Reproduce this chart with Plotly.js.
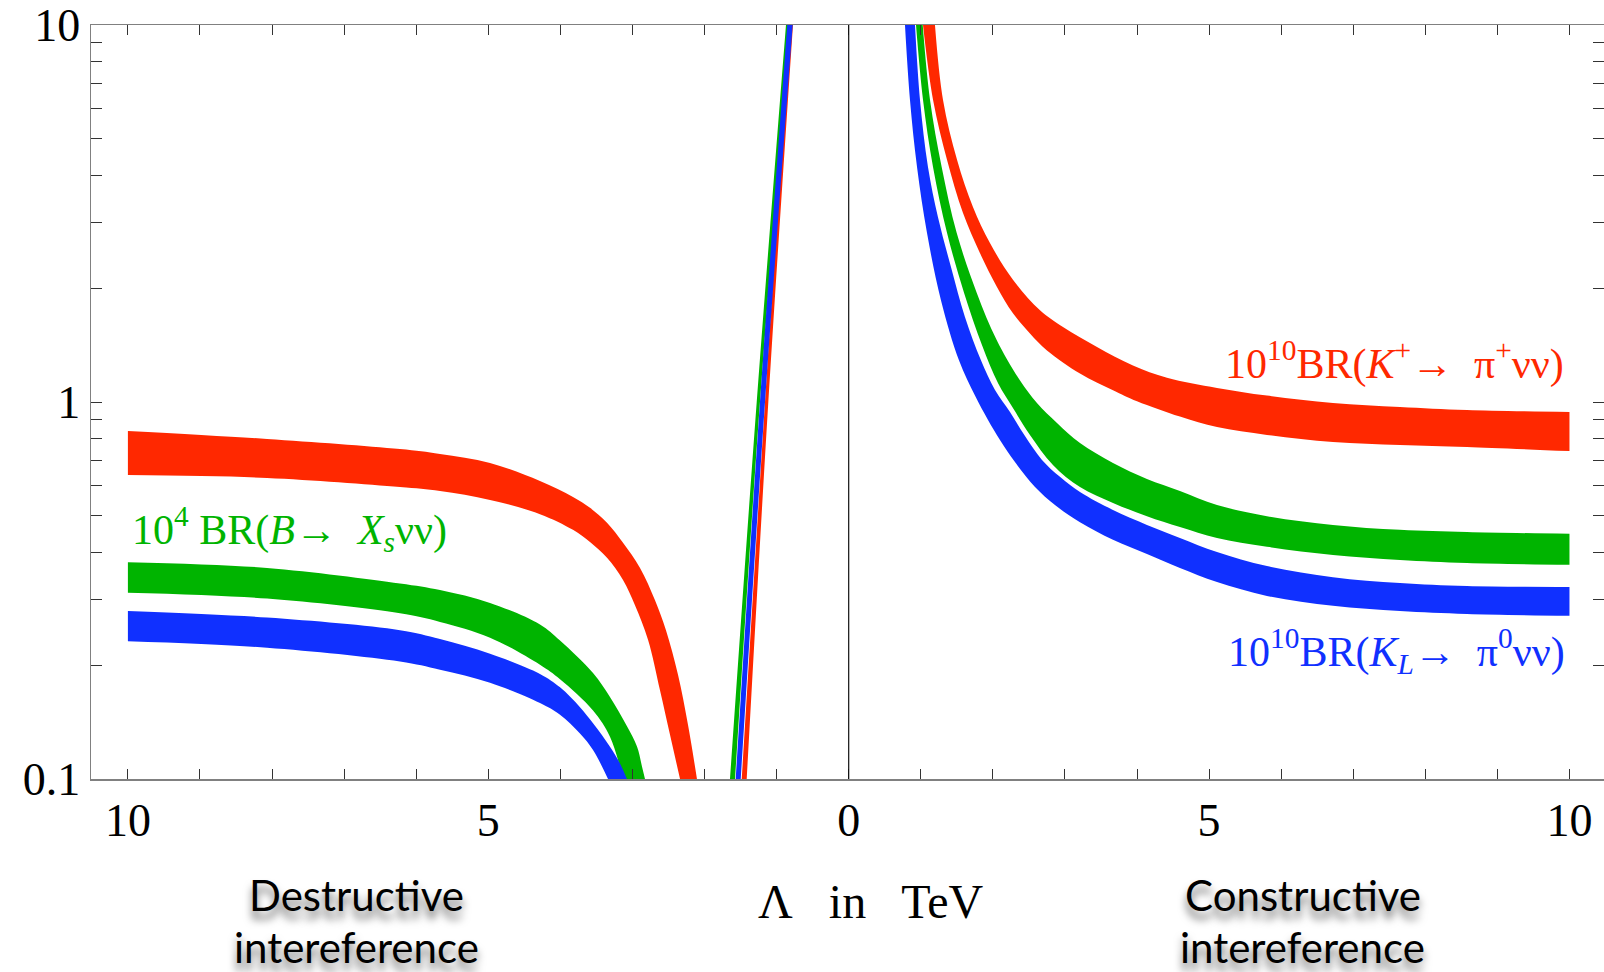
<!DOCTYPE html>
<html>
<head>
<meta charset="utf-8">
<script src="https://cdn.plot.ly/plotly-3.0.1.min.js"></script>
<style>
html,body{margin:0;padding:0;background:#fff;}
#chart{width:1604px;height:972px;}
</style>
</head>
<body>
<div id="chart"></div>
<script>
// ---- Destructive interference branch (Λ drawn at negative x) ----
const redDesUpperX = [-10,-8.07,-6.225,-5.67,-4.976,-4.283,-3.825,-3.589,-3.353,-3.131,-2.895,-2.687,-2.535,-2.368,-2.229,-2.105];
const redDesUpperY = [0.838,0.798,0.750,0.728,0.689,0.617,0.560,0.524,0.478,0.423,0.363,0.298,0.248,0.189,0.139,0.100];
const redDesLowerX = [-10,-8.07,-6.225,-5.67,-4.976,-4.283,-3.825,-3.589,-3.353,-3.131,-2.965,-2.784,-2.618,-2.479,-2.340];
const redDesLowerY = [0.640,0.629,0.595,0.581,0.550,0.504,0.458,0.425,0.386,0.337,0.289,0.234,0.172,0.131,0.100];

const greenDesUpperX = [-10,-8.07,-6.225,-5.67,-4.976,-4.283,-4.005,-3.547,-3.312,-3.076,-2.937,-2.868,-2.826];
const greenDesUpperY = [0.376,0.363,0.330,0.317,0.293,0.257,0.233,0.191,0.165,0.138,0.122,0.108,0.100];
const greenDesLowerX = [-10,-8.07,-6.225,-5.67,-4.976,-4.283,-4.005,-3.547,-3.312,-3.131];
const greenDesLowerY = [0.312,0.301,0.275,0.261,0.237,0.201,0.184,0.152,0.1295,0.100];

const blueDesUpperX = [-10,-8.07,-6.225,-5.67,-4.976,-4.283,-4.005,-3.728,-3.547,-3.312,-3.173,-3.076];
const blueDesUpperY = [0.279,0.268,0.248,0.235,0.215,0.190,0.175,0.155,0.1405,0.1218,0.110,0.100];
const blueDesLowerX = [-10,-8.07,-6.225,-5.67,-4.976,-4.283,-4.005,-3.728,-3.547,-3.339];
const blueDesLowerY = [0.232,0.223,0.205,0.195,0.180,0.159,0.148,0.132,0.1194,0.100];

// ---- Rising branch near the pole (small destructive Λ) ----
const poleY = [0.1, 1, 10];
const greenPoleUpperX = [-1.647,-1.276,-0.870];
const greenPoleLowerX = [-1.577,-1.231,-0.814];
const bluePoleUpperX  = [-1.568,-1.231,-0.852];
const bluePoleLowerX  = [-1.498,-1.161,-0.777];
const redPoleUpperX   = [-1.484,-1.161,-0.814];
const redPoleLowerX   = [-1.415,-1.115,-0.773];

// ---- Constructive interference branch (positive Λ) ----
const redConUpperX = [1.197,1.308,1.503,1.724,1.960,2.279,2.654,2.973,3.445,3.944,4.416,5.110,5.803,6.719,7.648,8.578,10];
const redConUpperY = [10,6.33,4.39,3.29,2.64,2.11,1.75,1.58,1.40,1.25,1.16,1.09,1.04,0.994,0.970,0.952,0.941];
const redConLowerX = [1.031,1.170,1.364,1.586,1.822,2.057,2.279,2.515,2.751,3.209,3.667,4.000,4.596,5.110,5.803,6.719,7.648,8.578,10];
const redConLowerY = [10,6.33,4.39,3.17,2.48,2.02,1.72,1.52,1.37,1.19,1.075,1.005,0.915,0.858,0.818,0.783,0.769,0.760,0.741];

const greenConUpperX = [1.027,1.128,1.290,1.498,1.776,2.053,2.377,2.612,2.890,3.209,3.667,4.138,4.596,5.110,5.803,6.719,7.648,8.578,10];
const greenConUpperY = [10,6.33,4.20,2.81,1.95,1.46,1.14,0.994,0.880,0.778,0.689,0.625,0.581,0.533,0.498,0.472,0.458,0.452,0.447];
const greenConLowerX = [0.934,1.031,1.170,1.364,1.600,1.849,2.071,2.279,2.515,2.834,3.209,3.667,4.138,4.596,5.110,5.803,6.719,7.648,8.578,10];
const greenConLowerY = [10,6.33,4.20,2.81,1.95,1.416,1.123,0.964,0.818,0.681,0.595,0.540,0.498,0.466,0.436,0.413,0.393,0.381,0.374,0.370];

const blueConUpperX = [0.920,0.989,1.100,1.239,1.419,1.613,1.835,2.030,2.238,2.446,2.682,2.931,3.209,3.667,4.138,4.596,5.110,5.803,6.719,7.648,8.578,10];
const blueConUpperY = [10,6.33,4.20,3.09,2.28,1.68,1.29,1.076,0.941,0.812,0.702,0.633,0.577,0.517,0.472,0.436,0.400,0.367,0.343,0.331,0.325,0.323];
const blueConLowerX = [0.781,0.850,0.948,1.086,1.281,1.530,1.752,1.933,2.099,2.307,2.585,2.862,3.209,3.667,4.138,4.596,5.110,5.803,6.719,7.648,8.578,10];
const blueConLowerY = [10,6.33,4.20,2.81,1.86,1.29,1.04,0.896,0.793,0.693,0.595,0.533,0.480,0.431,0.395,0.363,0.333,0.306,0.288,0.279,0.274,0.271];

// ---- Axis ticks ----
const xTickVals = [-10,-5,0,5,10];
const xTickText = ['10','5','0','5','10'];
const yTickVals = [0.1,1,10];
const yTickText = ['0.1','1','10'];
const yMinorVals = [0.2,0.3,0.4,0.5,0.6,0.7,0.8,0.9,2,3,4,5,6,7,8,9];

const RED = '#ff2800', GREEN = '#00b400', BLUE = '#1030ff';

// each band: lower edge (no fill) followed by upper edge filled down to it
function band(ux, uy, lx, ly, color) {
  const base = {type: 'scatter', mode: 'lines', hoverinfo: 'skip', showlegend: false};
  return [
    Object.assign({}, base, {x: lx, y: ly, line: {width: 0, color: color, shape: 'spline', smoothing: 1}}),
    Object.assign({}, base, {x: ux, y: uy, fill: 'tonexty', fillcolor: color,
      line: {width: 0, color: color, shape: 'spline', smoothing: 1}})
  ];
}

const traces = [].concat(
  band(redDesUpperX, redDesUpperY, redDesLowerX, redDesLowerY, RED),
  band(redPoleUpperX, poleY, redPoleLowerX, poleY, RED),
  band(redConUpperX, redConUpperY, redConLowerX, redConLowerY, RED),
  band(greenDesUpperX, greenDesUpperY, greenDesLowerX, greenDesLowerY, GREEN),
  band(greenPoleUpperX, poleY, greenPoleLowerX, poleY, GREEN),
  band(greenConUpperX, greenConUpperY, greenConLowerX, greenConLowerY, GREEN),
  band(blueDesUpperX, blueDesUpperY, blueDesLowerX, blueDesLowerY, BLUE),
  band(bluePoleUpperX, poleY, bluePoleLowerX, poleY, BLUE),
  band(blueConUpperX, blueConUpperY, blueConLowerX, blueConLowerY, BLUE)
);

const serif = 'Liberation Serif, Times New Roman, serif';
const sans = 'Lato, Open Sans, sans-serif';
const tickFont = {family: serif, size: 46, color: '#000'};
const shadowFont = {family: sans, size: 42, color: '#000', shadow: '0px 8px 9px rgba(0,0,0,0.6)'};

const layout = {
  width: 1604, height: 972,
  margin: {l: 91, r: 0, t: 25, b: 193, pad: 0},
  paper_bgcolor: '#fff', plot_bgcolor: '#fff',
  showlegend: false, hovermode: false,
  xaxis: {
    range: [-10.512, 10.479],
    tickmode: 'array', tickvals: xTickVals, ticktext: xTickText,
    ticks: 'inside', ticklen: 10, tickwidth: 1, tickcolor: '#333',
    minor: {tickmode: 'linear', tick0: 0, dtick: 1, ticks: 'inside', ticklen: 10, tickwidth: 1, tickcolor: '#333', showgrid: false},
    showline: true, linecolor: '#808080', linewidth: 1.5, mirror: 'ticks',
    showgrid: false, zeroline: false,
    tickfont: tickFont, ticklabelstandoff: 0
  },
  yaxis: {
    type: 'log', range: [-1, 1],
    tickmode: 'array', tickvals: yTickVals, ticktext: yTickText,
    ticks: 'inside', ticklen: 11, tickwidth: 1, tickcolor: '#333',
    minor: {tickmode: 'array', tickvals: yMinorVals, ticks: 'inside', ticklen: 11, tickwidth: 1, tickcolor: '#333', showgrid: false},
    showline: true, linecolor: '#808080', linewidth: 1.5, mirror: 'ticks',
    showgrid: false, zeroline: false,
    tickfont: tickFont, ticklabelstandoff: 0
  },
  shapes: [
    {type: 'line', xref: 'paper', x0: 0, x1: 1, yref: 'y', y0: 0, y1: 0,
     line: {color: '#000', width: 1}, layer: 'above'},
    {type: 'line', xref: 'x', x0: 0, x1: 0, yref: 'paper', y0: 0, y1: 1,
     line: {color: '#111', width: 1.2}, layer: 'above'}
  ],
  annotations: [
    {xref: 'paper', yref: 'paper', x: 0.9749, y: 0.555, xanchor: 'right', yanchor: 'middle',
     showarrow: false, text: '10<sup>10</sup>BR(<i>K</i><sup>+</sup>\u2192\u00a0 \u03c0<sup>+</sup>\u03bd\u03bd)',
     font: {family: serif, size: 42, color: RED}},
    {xref: 'paper', yref: 'paper', x: 0.9756, y: 0.170, xanchor: 'right', yanchor: 'middle',
     showarrow: false, text: '10<sup>10</sup>BR(<i>K</i><sub><i>L</i></sub>\u2192\u00a0 \u03c0<sup>0</sup>\u03bd\u03bd)',
     font: {family: serif, size: 42, color: BLUE}},
    {xref: 'paper', yref: 'paper', x: 0.0258, y: 0.331, xanchor: 'left', yanchor: 'middle',
     showarrow: false, text: '10<sup>4</sup> BR(<i>B</i>\u2192\u00a0 <i>X</i><sub><i>s</i></sub>\u03bd\u03bd)',
     font: {family: serif, size: 42, color: GREEN}},
    {xref: 'paper', yref: 'paper', x: 0.5155, y: -0.162, xanchor: 'center', yanchor: 'middle',
     showarrow: false, text: '\u039b\u00a0\u00a0 in\u00a0\u00a0 TeV',
     font: {family: serif, size: 48, color: '#000'}},
    {xref: 'paper', yref: 'paper', x: 0.1755, y: -0.1545, xanchor: 'center', yanchor: 'middle',
     showarrow: false, text: 'Destructive', font: shadowFont},
    {xref: 'paper', yref: 'paper', x: 0.1755, y: -0.2225, xanchor: 'center', yanchor: 'middle',
     showarrow: false, text: 'intereference', font: shadowFont},
    {xref: 'paper', yref: 'paper', x: 0.801, y: -0.1545, xanchor: 'center', yanchor: 'middle',
     showarrow: false, text: 'Constructive', font: shadowFont},
    {xref: 'paper', yref: 'paper', x: 0.801, y: -0.2225, xanchor: 'center', yanchor: 'middle',
     showarrow: false, text: 'intereference', font: shadowFont}
  ]
};

Plotly.newPlot('chart', traces, layout, {displayModeBar: false, staticPlot: true});
</script>
</body>
</html>
